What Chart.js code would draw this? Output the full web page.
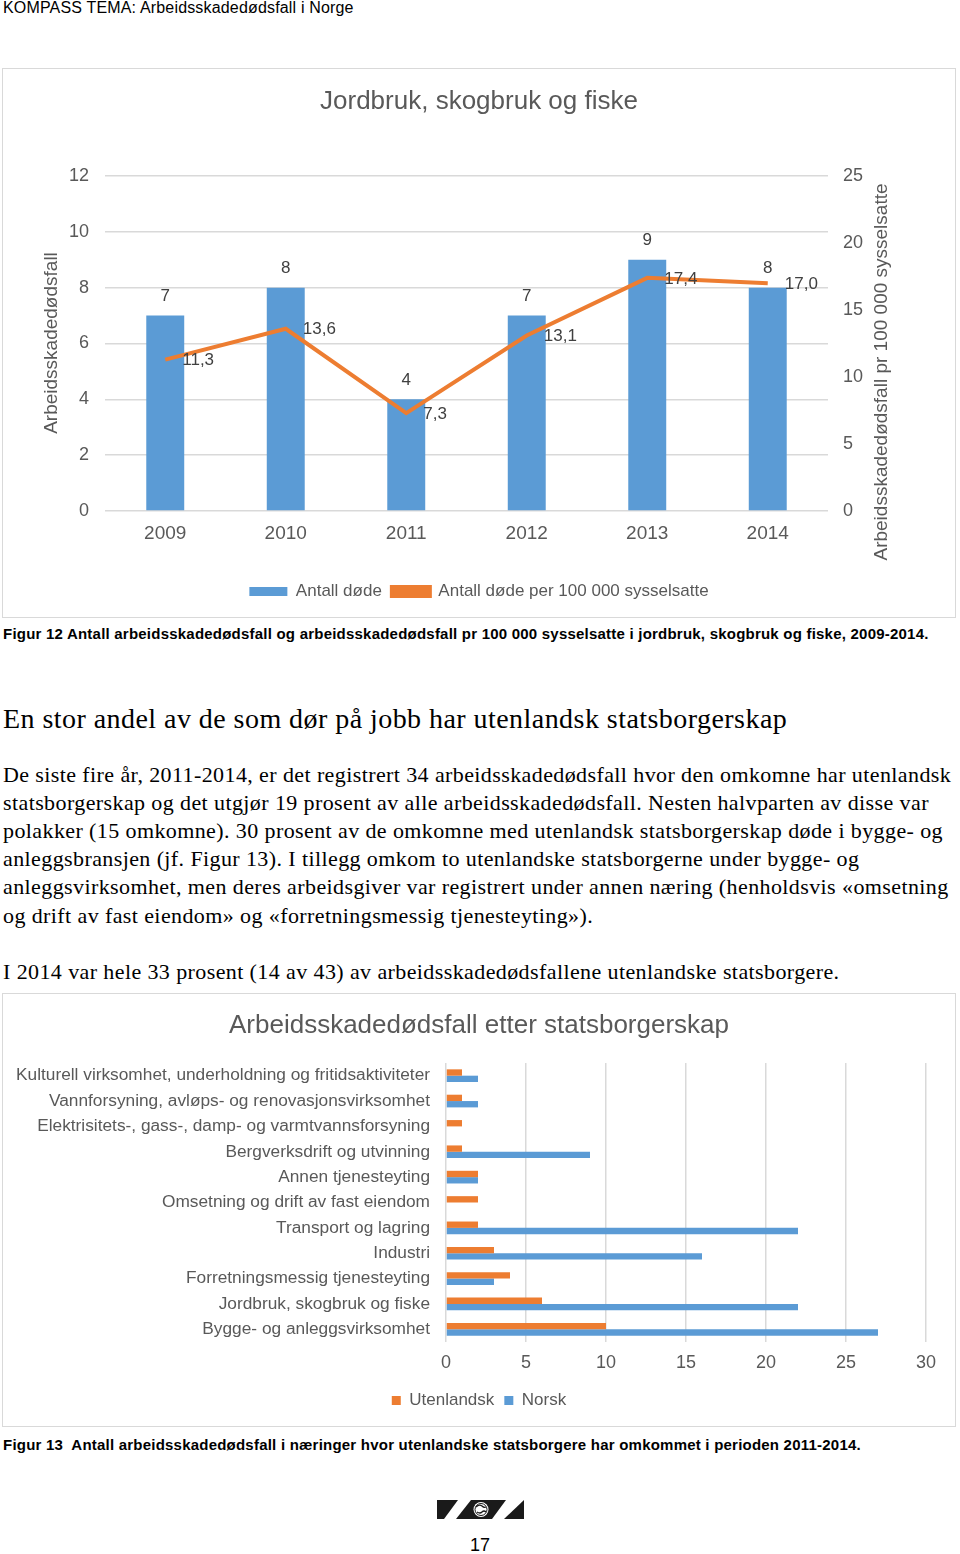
<!DOCTYPE html>
<html>
<head>
<meta charset="utf-8">
<script src="https://cdn.jsdelivr.net/npm/chart.js@4.4.1/dist/chart.umd.min.js"></script>
<style>
  body { margin: 0; width: 960px; height: 1554px; position: relative; background: #fff; overflow: hidden;
         font-family: "Liberation Sans", Arial, sans-serif; color: #000; }
  .abs { position: absolute; white-space: nowrap; }
  .box { position: absolute; left: 2px; border: 1px solid #d9d9d9; }
  .box canvas { display: block; }
  .serif { font-family: "Liberation Serif", "Times New Roman", serif; }
  .caption { font-weight: bold; font-size: 15px; line-height: 18px; left: 3px; letter-spacing: 0.22px; }
  .body p { margin: 0; position: absolute; left: 3px; font-size: 22px; line-height: 28px; white-space: nowrap; letter-spacing: 0.4px; }
</style>
</head>
<body>

<div class="abs" style="left:3px; top:0; font-size:16px; line-height:16px; letter-spacing:0.17px;">KOMPASS TEMA: Arbeidsskadedødsfall i Norge</div>

<div class="box" style="top:68px; width:952px; height:548px;">
  <canvas id="chart1" width="952" height="548"></canvas>
</div>

<div class="abs caption" style="top:625px;">Figur 12 Antall arbeidsskadedødsfall og arbeidsskadedødsfall pr 100 000 sysselsatte i jordbruk, skogbruk og fiske, 2009-2014.</div>

<div class="abs serif" style="left:3px; top:702px; font-size:28px; line-height:34px; letter-spacing:0.45px;">En stor andel av de som dør på jobb har utenlandsk statsborgerskap</div>

<div class="body serif">
  <p style="top:761px;">De siste fire år, 2011-2014, er det registrert 34 arbeidsskadedødsfall hvor den omkomne har utenlandsk</p>
  <p style="top:789px;">statsborgerskap og det utgjør 19 prosent av alle arbeidsskadedødsfall. Nesten halvparten av disse var</p>
  <p style="top:817px;">polakker (15 omkomne). 30 prosent av de omkomne med utenlandsk statsborgerskap døde i bygge- og</p>
  <p style="top:845px;">anleggsbransjen (jf. Figur 13). I tillegg omkom to utenlandske statsborgerne under bygge- og</p>
  <p style="top:873px;">anleggsvirksomhet, men deres arbeidsgiver var registrert under annen næring (henholdsvis «omsetning</p>
  <p style="top:902px;">og drift av fast eiendom» og «forretningsmessig tjenesteyting»).</p>
  <p style="top:958px;">I 2014 var hele 33 prosent (14 av 43) av arbeidsskadedødsfallene utenlandske statsborgere.</p>
</div>

<div class="box" style="top:993px; width:952px; height:432px;">
  <canvas id="chart2" width="952" height="432"></canvas>
</div>

<div class="abs caption" style="top:1436px;">Figur 13&nbsp; Antall arbeidsskadedødsfall i næringer hvor utenlandske statsborgere har omkommet i perioden 2011-2014.</div>

<svg class="abs" style="left:436px; top:1498px;" width="90" height="23" viewBox="0 0 90 23">
  <polygon points="1,2 22,2 8,21 1,21" fill="#1a1a1a"/>
  <polygon points="35,2 70,2 56,21 20,21" fill="#1a1a1a"/>
  <polygon points="88,2 88,21 68,21" fill="#1a1a1a"/>
  <circle cx="45" cy="11.5" r="7.5" fill="#fff"/>
  <circle cx="45" cy="11.5" r="6" fill="none" stroke="#1a1a1a" stroke-width="1"/>
  <path d="M40,9 q3,-3 6,-1 q2,2 4,1 M41,14 q3,2 5,0 q2,-2 4,0" fill="none" stroke="#1a1a1a" stroke-width="1.3"/>
</svg>
<div class="abs" style="left:0; width:960px; text-align:center; top:1534px; font-size:18px; line-height:22px;">17</div>

<script>
const years = ["2009", "2010", "2011", "2012", "2013", "2014"];
const deaths = [7, 8, 4, 7, 9, 8];
const deathsPer100k = [11.3, 13.6, 7.3, 13.1, 17.4, 17.0];

const industries = [
  "Kulturell virksomhet, underholdning og fritidsaktiviteter",
  "Vannforsyning, avløps- og renovasjonsvirksomhet",
  "Elektrisitets-, gass-, damp- og varmtvannsforsyning",
  "Bergverksdrift og utvinning",
  "Annen tjenesteyting",
  "Omsetning og drift av fast eiendom",
  "Transport og lagring",
  "Industri",
  "Forretningsmessig tjenesteyting",
  "Jordbruk, skogbruk og fiske",
  "Bygge- og anleggsvirksomhet",
];
const foreign = [1, 1, 1, 1, 2, 2, 2, 3, 4, 6, 10];
const norwegian = [2, 2, 0, 9, 2, 0, 22, 16, 3, 22, 27];

const FONT = '"Liberation Sans", Arial, sans-serif';
const GREY = "#595959";
const BLUE = "#5B9BD5";
const ORANGE = "#ED7D31";
const GRID = "#D9D9D9";

Chart.defaults.font.family = FONT;
Chart.defaults.color = GREY;

function fmt(v) {
  return v.toFixed(1).replace(".", ",");
}

// verdier over søylene og ved linjepunktene
const valueLabels = {
  id: "valueLabels",
  afterDatasetsDraw(chart) {
    const ctx = chart.ctx;
    ctx.save();
    ctx.font = "17px " + FONT;
    ctx.fillStyle = "#404040";
    ctx.textBaseline = "middle";
    chart.data.datasets.forEach((ds, i) => {
      const meta = chart.getDatasetMeta(i);
      meta.data.forEach((el, j) => {
        if (ds.type === "line") {
          ctx.textAlign = "left";
          ctx.fillText(fmt(ds.data[j]), el.x + 17, el.y + 1);
        } else {
          ctx.textAlign = "center";
          ctx.fillText(String(ds.data[j]), el.x, el.y - 19);
        }
      });
    });
    ctx.restore();
  },
};

// aksetitler, begge leses nedenfra og opp
const axisTitles = {
  id: "axisTitles",
  afterDraw(chart) {
    const ctx = chart.ctx;
    ctx.save();
    ctx.font = "19px " + FONT;
    ctx.fillStyle = GREY;
    ctx.textAlign = "center";
    ctx.textBaseline = "middle";
    [["Arbeidsskadedødsfall", 49, 274], ["Arbeidsskadedødsfall pr 100 000 sysselsatte", 879, 303]].forEach(([t, x, y]) => {
      ctx.save();
      ctx.translate(x, y);
      ctx.rotate(-Math.PI / 2);
      ctx.fillText(t, 0, 0);
      ctx.restore();
    });
    ctx.restore();
  },
};

new Chart(document.getElementById("chart1"), {
  data: {
    labels: years,
    datasets: [
      {
        type: "bar",
        label: "Antall døde",
        data: deaths,
        backgroundColor: BLUE,
        yAxisID: "y",
        order: 1,
        barPercentage: 1,
        categoryPercentage: 0.315,
      },
      {
        type: "line",
        label: "Antall døde per 100 000 sysselsatte",
        data: deathsPer100k,
        borderColor: ORANGE,
        backgroundColor: ORANGE,
        borderWidth: 4,
        pointRadius: 0,
        tension: 0,
        yAxisID: "y1",
        order: 0,
      },
    ],
  },
  options: {
    responsive: false,
    animation: false,
    layout: { padding: { left: 0, right: 0, top: 0, bottom: 7 } },
    plugins: {
      tooltip: { enabled: false },
      title: {
        display: true,
        text: "Jordbruk, skogbruk og fiske",
        color: GREY,
        font: { size: 26, weight: "normal" },
        padding: { top: 17.4, bottom: 58.4 },
      },
      legend: {
        position: "bottom",
        labels: {
          boxWidth: 38,
          boxHeight: 9,
          padding: 10,
          color: GREY,
          font: { size: 17 },
          sort: (a, b) => a.datasetIndex - b.datasetIndex,
        },
      },
    },
    scales: {
      x: {
        grid: { display: false, drawTicks: false },
        border: { display: false },
        ticks: { color: GREY, font: { size: 19 }, padding: 11 },
        afterFit(axis) { axis.height = 62; },
      },
      y: {
        position: "left",
        min: 0,
        max: 12,
        ticks: { stepSize: 2, color: GREY, font: { size: 18 }, padding: 16 },
        grid: { color: GRID, lineWidth: 1.5, drawTicks: false },
        border: { display: false },
        afterFit(axis) { axis.width = 102; },
      },
      y1: {
        position: "right",
        min: 0,
        max: 25,
        ticks: { stepSize: 5, color: GREY, font: { size: 18 }, padding: 15 },
        grid: { display: false, drawTicks: false },
        border: { display: false },
        afterFit(axis) { axis.width = 127; },
      },
    },
  },
  plugins: [valueLabels, axisTitles],
});

new Chart(document.getElementById("chart2"), {
  type: "bar",
  data: {
    labels: industries,
    datasets: [
      { label: "Utenlandsk", data: foreign, backgroundColor: ORANGE },
      { label: "Norsk", data: norwegian, backgroundColor: BLUE },
    ],
  },
  options: {
    indexAxis: "y",
    responsive: false,
    animation: false,
    layout: { padding: { left: 0, right: 0, top: 0, bottom: 7 } },
    datasets: { bar: { barPercentage: 1, categoryPercentage: 0.5 } },
    plugins: {
      tooltip: { enabled: false },
      title: {
        display: true,
        text: "Arbeidsskadedødsfall etter statsborgerskap",
        color: GREY,
        font: { size: 26, weight: "normal" },
        padding: { top: 16.4, bottom: 21.4 },
      },
      legend: {
        position: "bottom",
        labels: { boxWidth: 9, boxHeight: 9, padding: 10, color: GREY, font: { size: 17 } },
      },
    },
    scales: {
      x: {
        min: 0,
        max: 30,
        ticks: { stepSize: 5, color: GREY, font: { size: 18 }, padding: 10 },
        grid: { color: GRID, lineWidth: 1.5, drawTicks: false },
        border: { display: false },
        afterFit(axis) { axis.height = 40; },
      },
      y: {
        ticks: { autoSkip: false, color: GREY, font: { size: 17.3 }, padding: 16 },
        grid: { display: false, drawTicks: false },
        border: { display: false },
        afterFit(axis) { axis.width = 443; },
      },
      // tom akse til høyre, bare for å gi plass som i originalen
      yRight: {
        type: "category",
        position: "right",
        ticks: { display: false },
        grid: { display: false, drawTicks: false },
        border: { display: false },
        afterFit(axis) { axis.width = 29; },
      },
    },
  },
});
</script>
</body>
</html>
